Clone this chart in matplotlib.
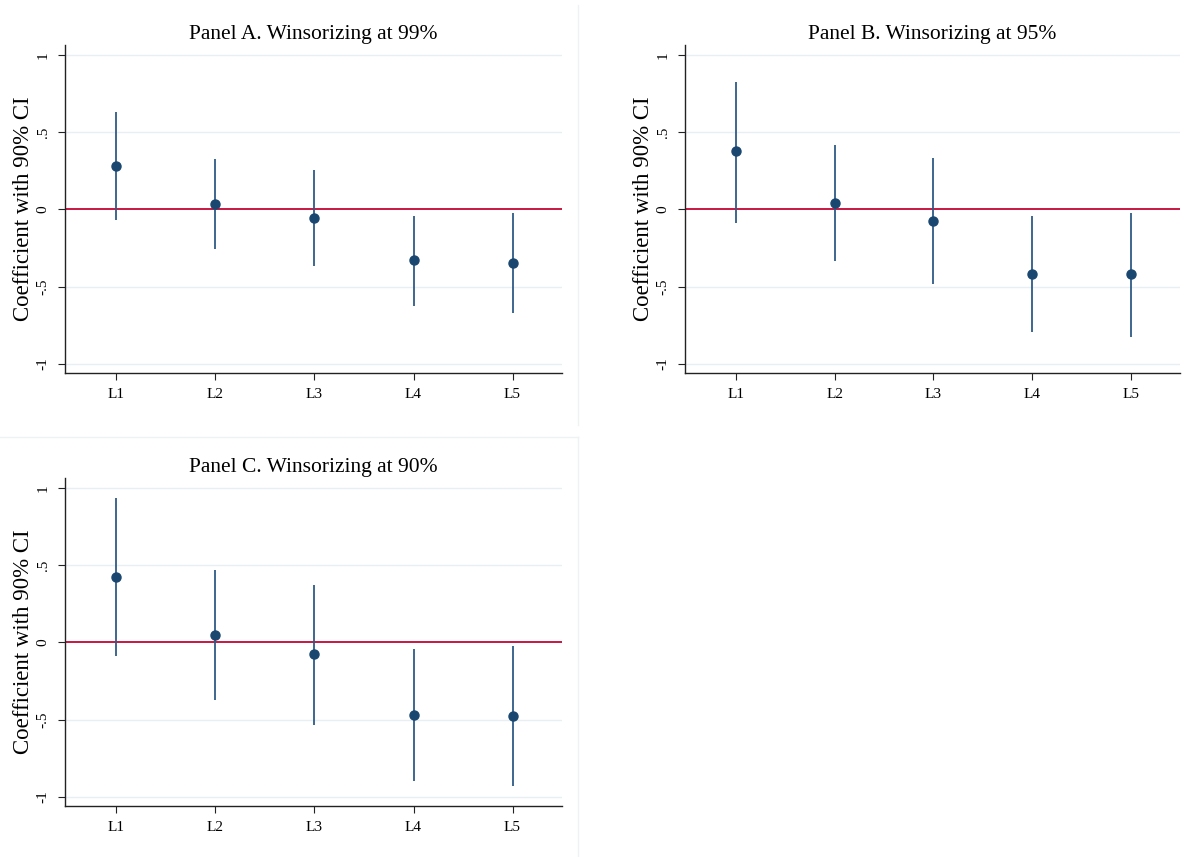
import matplotlib
matplotlib.use("Agg")
import matplotlib.pyplot as plt
from matplotlib.lines import Line2D

plt.rcParams['font.family'] = ['Liberation Serif', 'DejaVu Serif']

categories = ["L1", "L2", "L3", "L4", "L5"]

titles = ["Panel A. Winsorizing at 99%",
          "Panel B. Winsorizing at 95%",
          "Panel C. Winsorizing at 90%"]

coef_a = [0.278, 0.032, -0.058, -0.330, -0.350]
lo_a = [-0.071, -0.259, -0.369, -0.628, -0.673]
hi_a = [0.628, 0.324, 0.252, -0.045, -0.026]

coef_b = [0.375, 0.039, -0.078, -0.420, -0.420]
lo_b = [-0.091, -0.337, -0.485, -0.796, -0.828]
hi_b = [0.828, 0.414, 0.330, -0.045, -0.026]

coef_c = [0.426, 0.045, -0.077, -0.471, -0.477]
lo_c = [-0.090, -0.374, -0.535, -0.897, -0.929]
hi_c = [0.935, 0.471, 0.374, -0.045, -0.026]

yticks = [-1, -0.5, 0, 0.5, 1]
ytick_labels = ["-1", "-.5", "0", ".5", "1"]
ylabel = "Coefficient with 90% CI"

panels = [(coef_a, lo_a, hi_a), (coef_b, lo_b, hi_b), (coef_c, lo_c, hi_c)]

fig = plt.figure(figsize=(11.9, 8.57), dpi=100)
fig.patch.set_facecolor("white")

positions = [
    [0.0546, 0.5648, 0.4177, 0.3827],
    [0.5756, 0.5648, 0.4160, 0.3827],
    [0.0546, 0.0595, 0.4177, 0.3827],
]

navy = "#1a476f"
ci_col = "#2f5b85"
red = "#c10534"
grid = "#e8eff2"

for pos, title, (coef, lo, hi) in zip(positions, titles, panels):
    ax = fig.add_axes(pos)
    x = list(range(1, len(categories) + 1))
    for g in [-1, -0.5, 0.5, 1]:
        ax.axhline(g, color=grid, lw=1.0, zorder=0)
    ax.axhline(0, color=red, lw=1.3, zorder=1)
    ax.vlines(x, lo, hi, color=ci_col, lw=1.3, zorder=2)
    ax.plot(x, coef, "o", color=navy, ms=6.5, zorder=3)
    ax.set_xlim(0.48, 5.5)
    ax.set_ylim(-1.06, 1.065)
    ax.set_xticks(x)
    ax.set_xticklabels(categories, fontsize=11)
    ax.set_yticks(yticks)
    ax.set_yticklabels(ytick_labels, fontsize=11, rotation=90, va="center")
    for s in ["top", "right"]:
        ax.spines[s].set_visible(False)
    for s in ["left", "bottom"]:
        ax.spines[s].set_color("#222222")
        ax.spines[s].set_linewidth(1.0)
    ax.tick_params(axis="both", direction="out", length=5, color="#222222", pad=6)
    ax.set_ylabel(ylabel, fontsize=16.5, labelpad=2)
    ax.set_title(title, fontsize=15.5, pad=4)

# faint panel borders (graph combine)
border = "#eef2f4"
fig.add_artist(Line2D([578 / 1190, 578 / 1190], [1 - 5 / 857, 1 - 425 / 857],
                      transform=fig.transFigure, color=border, lw=1))
fig.add_artist(Line2D([0, 578 / 1190], [1 - 437 / 857, 1 - 437 / 857],
                      transform=fig.transFigure, color=border, lw=1))
fig.add_artist(Line2D([578 / 1190, 578 / 1190], [1 - 437 / 857, 0],
                      transform=fig.transFigure, color=border, lw=1))

fig.savefig("out.png", dpi=100, facecolor="white")
